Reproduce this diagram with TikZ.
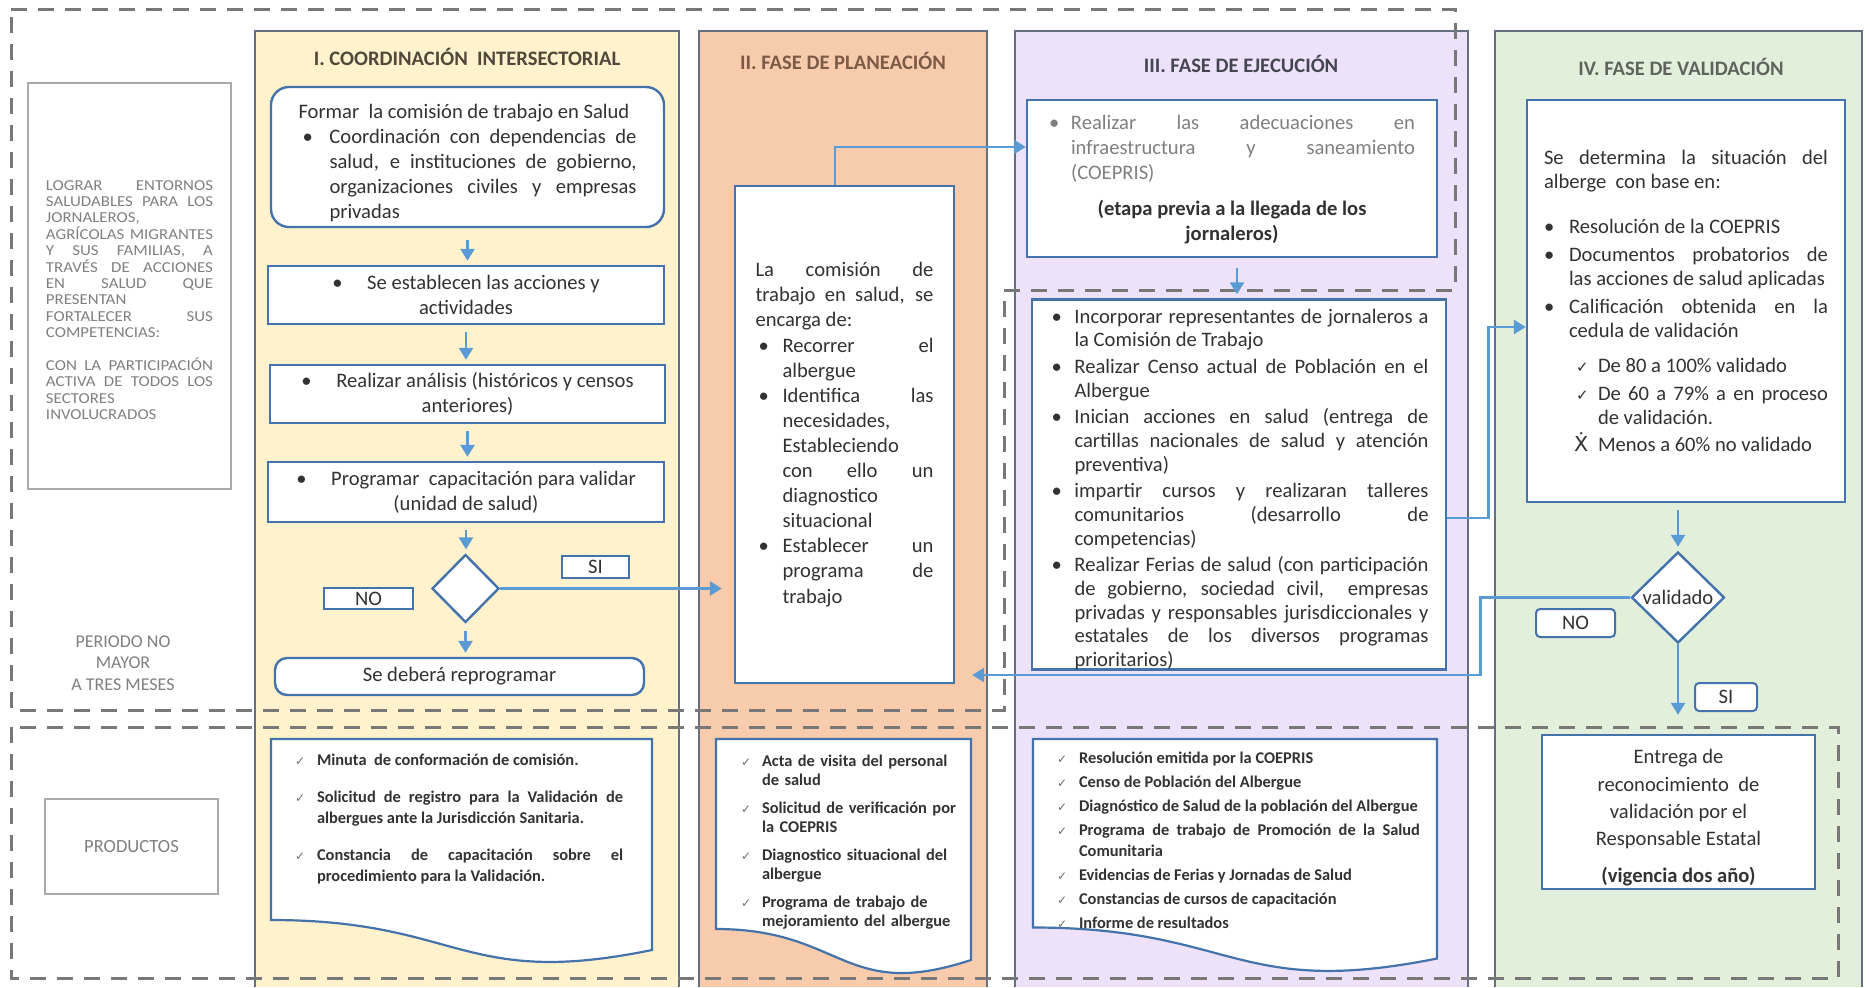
\documentclass[tikz,border=0pt]{standalone}
\usepackage{fontspec}
\setmainfont{Carlito}
\newfontfamily\widefont{Carlito}[FakeStretch=1.11]
\newfontfamily\symfont{DejaVu Sans}
\usetikzlibrary{shapes.geometric,arrows.meta}

\definecolor{boxblue}{RGB}{68,114,170}
\definecolor{arrowblue}{RGB}{91,155,213}
\definecolor{colline}{RGB}{100,112,130}
\definecolor{dashgray}{RGB}{120,120,120}
\definecolor{colI}{RGB}{255,242,204}
\definecolor{colII}{RGB}{248,203,173}
\definecolor{colIII}{RGB}{237,226,249}
\definecolor{colIV}{RGB}{226,239,218}
\definecolor{txt}{RGB}{50,50,50}
\definecolor{softtxt}{RGB}{128,128,128}
\definecolor{greyline}{RGB}{170,170,170}
\definecolor{titI}{RGB}{80,72,60}
\definecolor{titII}{RGB}{125,90,70}
\definecolor{titIII}{RGB}{70,70,80}
\definecolor{titIV}{RGB}{95,100,95}
\definecolor{chkgray}{RGB}{110,110,110}

\setlength{\parindent}{0pt}
\hyphenpenalty=10000
\exhyphenpenalty=10000
\sloppy

\newcommand{\hitem}[3]{\par\hangindent=#1\hangafter=1\noindent\makebox[#1][l]{#2}#3}
\newcommand{\chk}{{\symfont\fontsize{7.5}{7.5}\selectfont ✓}}
\newcommand{\dchk}{{\color{chkgray}\symfont\fontsize{6}{6}\selectfont ✓}}

\begin{document}
\begin{tikzpicture}[x=0.5pt,y=-0.5pt,
  box/.style={draw=boxblue, line width=1.2pt, fill=white, inner sep=0pt, text=txt,
    font=\fontsize{10.3}{12.5}\selectfont},
  rbox/.style={box, rounded corners=9pt},
  tag/.style={box, line width=1pt},
  decision/.style={diamond, draw=boxblue, line width=1.2pt, fill=white, inner sep=0pt,
    text=txt, font=\fontsize{10.3}{12.5}\selectfont},
  phase/.style={font=\bfseries\fontsize{10.3}{12}\selectfont},
  conn/.style={draw=arrowblue, line width=1.4pt, -{Triangle[length=6pt,width=7pt]}},
  down/.style={conn, shorten <=3.5pt, shorten >=2pt},
  frame/.style={draw=dashgray, line width=1.5pt, dash pattern=on 8pt off 5.5pt},
  column/.style={draw=colline, line width=0.9pt},
  sheet/.style={draw=boxblue, line width=1.1pt, fill=white},
  prod/.style={inner sep=0pt, text=txt}
]

% Background and phase columns
\useasboundingbox (0,0) rectangle (1870,987);
\fill[white] (0,0) rectangle (1870,987);
\fill[colI] (255,31) rectangle (679,987);
\draw[column] (255,987) -- (255,31) -- (679,31) -- (679,987);
\fill[colII] (699,31) rectangle (987,987);
\draw[column] (699,987) -- (699,31) -- (987,31) -- (987,987);
\fill[colIII] (1015,31) rectangle (1468,987);
\draw[column] (1015,987) -- (1015,31) -- (1468,31) -- (1468,987);
\fill[colIV] (1495,31) rectangle (1862,987);
\draw[column] (1495,987) -- (1495,31) -- (1862,31) -- (1862,987);

% Dashed frames: period and products
\draw[frame] (11,9) -- (1455,9) -- (1455,290) -- (1004,290) -- (1004,710) -- (11,710) -- cycle;
\draw[frame] (11,727) rectangle (1838,978);

% Phase titles
\node[phase, text=titI] (tI) at (467,57) {I. COORDINACIÓN\ \ INTERSECTORIAL};
\node[phase, text=titII] (tII) at (843,61) {II. FASE DE PLANEACIÓN};
\node[phase, text=titIII] (tIII) at (1241,64) {III. FASE DE EJECUCIÓN};
\node[phase, text=titIV] (tIV) at (1681,67) {IV. FASE DE VALIDACIÓN};

% Left margin: objective and period
\node[box, draw=greyline, minimum width=101.5pt, minimum height=203pt] (goal) at (129.5,286) {};
\node[inner sep=0pt, text=softtxt, text width=83.5pt, align=justify,
  font=\widefont\fontsize{7.6}{8.2}\selectfont] (goaltxt) at (129.5,300)
  {LOGRAR ENTORNOS\linebreak SALUDABLES PARA LOS\linebreak JORNALEROS,\hfill\break
   AGRÍCOLAS MIGRANTES\linebreak Y SUS FAMILIAS, A\linebreak TRAVÉS DE ACCIONES\linebreak
   EN SALUD QUE\linebreak PRESENTAN\hfill\break FORTALECER SUS\linebreak COMPETENCIAS:\par
   \vspace{8.2pt}CON LA PARTICIPACIÓN\linebreak ACTIVA DE TODOS LOS\linebreak
   SECTORES\hfill\break INVOLUCRADOS\par};
\node[text=softtxt, align=center, font=\fontsize{9}{10.75}\selectfont] (periodo) at (123,663)
  {PERIODO NO\\MAYOR\\A TRES MESES};

% Phase I: coordination
\node[rbox, minimum width=196.5pt, minimum height=70pt, text width=169pt, align=justify] (formar) at (467.5,157)
  {\rule{0pt}{13pt}Formar\ \ la comisión de trabajo en Salud\hitem{15.5pt}{\hspace{2pt}\textbullet}{Coordinación con dependencias de\linebreak
   salud, e instituciones de gobierno,\linebreak organizaciones civiles y empresas\linebreak privadas}\par};
\node[box, minimum width=198pt, minimum height=29pt, align=center] (estab) at (466,295)
  {\textbullet\hspace{1.2em}Se establecen las acciones y\\actividades};
\node[box, minimum width=197.5pt, minimum height=29pt, align=center] (analisis) at (467.5,394)
  {\textbullet\hspace{1.2em}Realizar análisis (históricos y censos\\anteriores)};
\node[box, minimum width=198pt, minimum height=30pt, align=center] (program) at (466,492)
  {\textbullet\hspace{1.2em}Programar\ \ capacitación para validar\\(unidad de salud)};
\node[decision, minimum width=33.5pt, minimum height=34pt] (decI) at (465.5,588.5) {};
\node[tag, minimum width=33.5pt, minimum height=11pt] (siI) at (595.5,567) {SI};
\node[tag, minimum width=44.5pt, minimum height=10.5pt] (noI) at (368.5,598.5) {NO};
\node[rbox, rounded corners=6pt, minimum width=184.5pt, minimum height=18.5pt] (reprog) at (459.5,676.5)
  {Se deberá reprogramar};

% Phase II: planning
\node[box, minimum width=109.5pt, minimum height=248.5pt, text width=89pt, align=justify,
  font=\fontsize{10.3}{12.55}\selectfont] (plan) at (844.5,434.5)
  {La comisión de\linebreak trabajo en salud, se\linebreak encarga de:%
   \hitem{13.5pt}{\hspace{1.5pt}\textbullet}{Recorrer el\linebreak albergue}%
   \hitem{13.5pt}{\hspace{1.5pt}\textbullet}{Identifica las\linebreak necesidades,\hfill\break
     Estableciendo\hfill\break con ello un\linebreak diagnostico\hfill\break situacional}%
   \hitem{13.5pt}{\hspace{1.5pt}\textbullet}{Establecer un\linebreak programa de\linebreak trabajo}\par};

% Phase III: execution
\node[box, text=softtxt, minimum width=205pt, minimum height=78.5pt, text width=183pt, align=justify,
  font=\fontsize{10.3}{12.5}\selectfont] (exA) at (1232,178.5)
  {\hitem{11pt}{\textbullet}{Realizar las adecuaciones en\linebreak infraestructura y saneamiento\linebreak (COEPRIS)}\par
   \vspace{5.5pt}{\centering\bfseries\leavevmode\color{txt}(etapa previa a la llegada de los\\jornaleros)\rule[-6pt]{0pt}{0pt}\par}};
\node[box, minimum width=207pt, minimum height=182.5pt, text width=189.5pt, align=justify,
  font=\fontsize{10.3}{11.8}\selectfont] (exB) at (1239,484.5)
  {\hitem{12.5pt}{\hspace{1pt}\textbullet}{Incorporar representantes de jornaleros a\linebreak la Comisión de Trabajo}%
   \setlength{\parskip}{1.6pt}%
   \hitem{12.5pt}{\hspace{1pt}\textbullet}{Realizar Censo actual de Población en el\linebreak Albergue}%
   \hitem{12.5pt}{\hspace{1pt}\textbullet}{Inician acciones en salud (entrega de\linebreak cartillas nacionales de salud y atención\linebreak preventiva)}%
   \hitem{12.5pt}{\hspace{1pt}\textbullet}{impartir cursos y realizaran talleres\linebreak comunitarios (desarrollo de\linebreak competencias)}%
   \hitem{12.5pt}{\hspace{1pt}\textbullet}{Realizar Ferias de salud (con participación\linebreak de gobierno, sociedad civil,\ \ empresas\linebreak
     privadas y responsables jurisdiccionales y\linebreak estatales de los diversos programas\linebreak prioritarios)}\par};

% Phase IV: validation
\node[box, minimum width=159pt, minimum height=201pt, text width=142pt, align=justify,
  font=\fontsize{10.3}{12}\selectfont] (val) at (1686,301)
  {Se determina la situación del\linebreak alberge\ \ con base en:\setlength{\parskip}{1.8pt}\par\vspace{9pt}%
   \hitem{12.5pt}{\textbullet}{Resolución de la COEPRIS}%
   \hitem{12.5pt}{\textbullet}{Documentos probatorios de\linebreak las acciones de salud aplicadas}%
   \hitem{12.5pt}{\textbullet}{Calificación obtenida en la\linebreak cedula de validación}\par\vspace{4pt}%
   \hitem{27pt}{\hspace{16pt}\chk}{De 80 a 100\% validado}%
   \hitem{27pt}{\hspace{16pt}\chk}{De 60 a 79\% a en proceso\linebreak de validación.}%
   \hitem{27pt}{\hspace{15pt}{\symfont Ẋ}}{Menos a 60\% no validado}\par};
\node[decision, minimum width=46.5pt, minimum height=45.5pt] (decIV) at (1678,597.5) {validado};
\node[tag, rounded corners=2pt, minimum width=39.5pt, minimum height=14pt] (noIV) at (1575.5,623) {NO};
\node[tag, rounded corners=2pt, minimum width=31pt, minimum height=14pt] (siIV) at (1726,697) {SI};
\node[box, minimum width=136.5pt, minimum height=77pt, align=center,
  font=\fontsize{10.3}{13.7}\selectfont] (entrega) at (1678.5,812)
  {\rule{0pt}{13pt}Entrega de\\reconocimiento\ \ de\\validación por el\\Responsable Estatal\\[4.8pt]\textbf{(vigencia dos año)}};

% Products row
\node[box, draw=greyline, text=softtxt, minimum width=86.5pt, minimum height=47.5pt,
  font=\fontsize{9.3}{11}\selectfont] (productos) at (131.5,846.5) {PRODUCTOS};
\filldraw[sheet] (271,739) -- (652,739) -- (652,950) .. controls (461.5,989) and (461.5,920) .. (271,920) -- cycle;
\filldraw[sheet] (716,739) -- (971,739) -- (971,960) .. controls (843.5,1002) and (843.5,929) .. (716,929) -- cycle;
\filldraw[sheet] (1033,739) -- (1437,739) -- (1437,958.5) .. controls (1235,999) and (1235,927.5) .. (1033,927.5) -- cycle;
\node[prod, text width=164pt, align=justify, font=\bfseries\fontsize{8.2}{10.5}\selectfont] (prodI) at (459,814)
  {\hitem{11pt}{\dchk}{Minuta\ \ de conformación de comisión.}\setlength{\parskip}{8pt}%
   \hitem{11pt}{\dchk}{Solicitud de registro para la Validación de\linebreak albergues ante la Jurisdicción Sanitaria.}%
   \hitem{11pt}{\dchk}{Constancia de capacitación sobre el\linebreak procedimiento para la Validación.}\par};
\node[prod, text width=112pt, align=left, font=\bfseries\fontsize{8.2}{9.75}\selectfont] (prodII) at (853,838)
  {\hitem{10.5pt}{\dchk}{Acta de visita del personal\linebreak de salud}\setlength{\parskip}{4pt}%
   \hitem{10.5pt}{\dchk}{Solicitud de verificación por\linebreak la COEPRIS}%
   \hitem{10.5pt}{\dchk}{Diagnostico situacional del\linebreak albergue}%
   \hitem{10.5pt}{\dchk}{Programa de trabajo de\linebreak mejoramiento del albergue}\par};
\node[prod, text width=181.5pt, align=justify, font=\bfseries\fontsize{8.2}{10.3}\selectfont] (prodIII) at (1238.5,836)
  {\hitem{11pt}{\dchk}{Resolución emitida por la COEPRIS}\setlength{\parskip}{1.75pt}%
   \hitem{11pt}{\dchk}{Censo de Población del Albergue}%
   \hitem{11pt}{\dchk}{Diagnóstico de Salud de la población del Albergue}%
   \hitem{11pt}{\dchk}{Programa de trabajo de Promoción de la Salud\linebreak Comunitaria}%
   \hitem{11pt}{\dchk}{Evidencias de Ferias y Jornadas de Salud}%
   \hitem{11pt}{\dchk}{Constancias de cursos de capacitación}%
   \hitem{11pt}{\dchk}{Informe de resultados}\par};

% Connectors
\draw[down, shorten <=6pt] (formar.south) -- (formar.south |- estab.north);
\draw[down] (estab.south) -- (estab.south |- analisis.north);
\draw[down] (analisis.south) -- (analisis.south |- program.north);
\draw[down] (program.south) -- (program.south |- decI.north);
\draw[down] (decI.south) -- (decI.south |- reprog.north);
\draw[conn, shorten >=6pt] (decI.east) -- (decI.east -| plan.west);
\draw[conn] ([xshift=-4.75pt]plan.north) |- ([yshift=15.75pt]exA.west);
\draw[down, shorten <=5pt] ([xshift=2.5pt]exA.south) -- ([xshift=2.5pt]exA.south |- exB.north);
\draw[conn] ([yshift=-16.75pt]exB.east) -- ++(41,0) |- ([yshift=-13pt]val.west);
\draw[down] (decIV.north |- val.south) -- (decIV.north);
\draw[conn, shorten >=8.5pt] (decIV.west) -- ++(-150,0) |- ([yshift=-120.25pt]plan.east);
\draw[conn, shorten >=9.5pt] (decIV.south) -- (decIV.south |- entrega.north);

\end{tikzpicture}
\end{document}
